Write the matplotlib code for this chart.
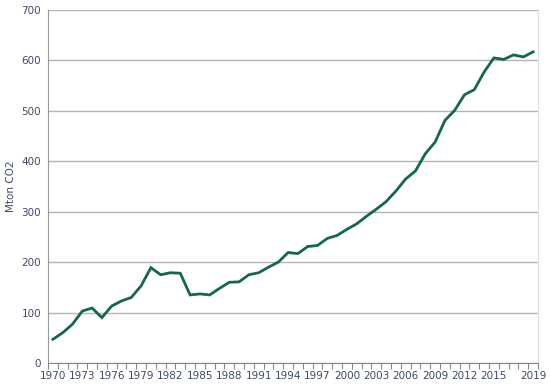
import numpy as np
import matplotlib
matplotlib.use("Agg")
import matplotlib.pyplot as plt
from matplotlib.ticker import FixedLocator, NullFormatter

# Emissions per year (Mton CO2)
years = list(range(1970, 2020))
emissions = [
    47, 60, 77, 103, 109, 90, 113, 123, 130, 153,
    189, 175, 179, 178, 135, 137, 135, 148, 160, 161,
    175, 179, 190, 200, 219, 217, 231, 233, 247, 253,
    265, 276, 291, 305, 320, 341, 365, 381, 415, 438,
    481, 501, 532, 542, 577, 605, 602, 611, 607, 617,
]
label_years = [1970, 1973, 1976, 1979, 1982, 1985, 1988, 1991, 1994, 1997,
               2000, 2003, 2006, 2009, 2012, 2015, 2019]

line_col = "#13674c"
grid_col = "#b4b4b4"
text_col = "#3c4a66"

fig = plt.figure(figsize=(5.5, 3.85), dpi=100)
ax = fig.add_axes([48 / 550, 22 / 385, 490 / 550, 353 / 385])

x = np.arange(len(years))
ax.plot(x, emissions, color=line_col, lw=2.0, solid_joinstyle="miter")

ax.set_xlim(-0.5, len(years) - 0.5)
ax.set_ylim(0, 700)
ax.set_yticks(range(0, 701, 100))
ax.yaxis.grid(True, color=grid_col, lw=1.0)
ax.set_axisbelow(True)

# category labels centred, tick marks on category boundaries
ax.set_xticks([years.index(y) for y in label_years])
ax.set_xticklabels([str(y) for y in label_years])
ax.xaxis.set_minor_locator(FixedLocator(np.arange(-0.5, len(years), 1)))
ax.xaxis.set_minor_formatter(NullFormatter())
ax.tick_params(axis="x", which="major", length=0, pad=6, labelsize=7.5, labelcolor=text_col)
ax.tick_params(axis="x", which="minor", length=4, color="#888888", width=0.8)
ax.tick_params(axis="y", length=0, pad=5, labelsize=7.5, labelcolor=text_col)

ax.spines["top"].set_visible(False)
ax.spines["left"].set_color("#999999")
ax.spines["bottom"].set_color("#888888")
ax.spines["right"].set_color("#dddddd")

ax.set_ylabel("Mton CO2", fontsize=7.5, color=text_col)
ax.yaxis.set_label_coords(-0.066, 0.5)

fig.savefig("out.png", dpi=100)
